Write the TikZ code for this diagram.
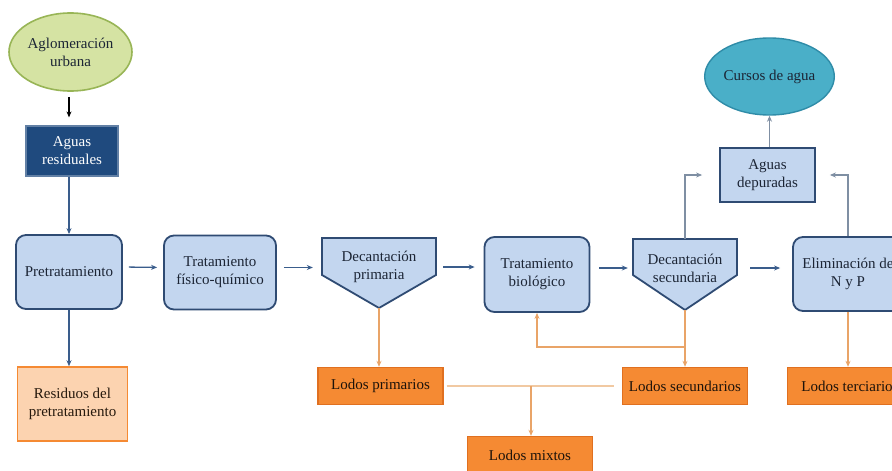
\documentclass[tikz,border=0pt]{standalone}
\usepackage{fontspec}
\setmainfont{Liberation Serif}
\usetikzlibrary{arrows.meta,shapes.geometric}

\definecolor{navy}{HTML}{2F4B73}
\definecolor{lblue}{HTML}{C3D6EF}
\definecolor{dblue}{HTML}{1F4A7E}
\definecolor{arrblue}{HTML}{3A5D8C}
\definecolor{grayarr}{HTML}{7F8FA3}
\definecolor{txtdark}{HTML}{1C2535}
\definecolor{orfill}{HTML}{F58A33}
\definecolor{ordraw}{HTML}{E07020}
\definecolor{orline}{HTML}{E9A468}
\definecolor{orlight}{HTML}{F1C9A2}
\definecolor{peach}{HTML}{FCD3B0}
\definecolor{gfill}{HTML}{D5E3A3}
\definecolor{gdraw}{HTML}{98B556}
\definecolor{teal}{HTML}{4AAFC8}
\definecolor{tealdraw}{HTML}{2F8CA8}

\begin{document}
\begin{tikzpicture}[x=1pt,y=-1pt,
  every node/.style={font=\fontsize{15}{18}\selectfont, align=center, inner sep=0pt},
  procbox/.style={draw=navy, line width=1.8pt, fill=lblue, rounded corners=10pt,
                  text=txtdark},
  pent/.style={draw=navy, line width=1.8pt, fill=lblue, line join=miter},
  plainbox/.style={draw=navy, line width=1.8pt, fill=lblue, text=txtdark},
  lodo/.style={draw=ordraw, line width=1.4pt, fill=orfill, text=black!85!brown,
               minimum width=125pt, minimum height=37pt},
  tip/.style={-{Stealth[length=6pt,width=5pt]}},
  flow/.style={tip, draw=arrblue, line width=1.3pt},
  sludge/.style={tip, draw=orline, line width=1.3pt},
]
\useasboundingbox (0,0) rectangle (892,471);
\fill[white] (0,0) rectangle (892,471);

% source and raw water
\node[ellipse, draw=gdraw, line width=1.6pt, fill=gfill, text=txtdark,
      minimum width=123pt, minimum height=78pt] (agl) at (70.5,52) {Aglomeración\\urbana};
\node[draw=dblue!70!white, line width=1.2pt, fill=dblue, text=white,
      minimum width=92pt, minimum height=50pt] (res) at (72,151) {Aguas\\residuales};

% treatment line
\node[procbox, minimum width=106pt, minimum height=74pt] (pret) at (69,272) {Pretratamiento};
\node[procbox, minimum width=112pt, minimum height=74pt] (fq) at (220,272.5) {Tratamiento\\físico-químico};
\filldraw[pent] (322,238) -- (436,238) -- (436,275) -- (379,308) -- (322,275) -- cycle;
\coordinate (dptip) at (379,308);
\node[minimum width=114pt, minimum height=58pt, text=txtdark] (dp) at (379,267) {Decantación\\primaria};
\node[procbox, minimum width=105pt, minimum height=75pt] (bio) at (537,274.5) {Tratamiento\\biológico};
\filldraw[pent] (633,239) -- (737,239) -- (737,275) -- (685,310) -- (633,275) -- cycle;
\coordinate (dstip) at (685,310);
\node[minimum width=104pt, minimum height=58pt, text=txtdark] (ds) at (685,268) {Decantación\\secundaria};
\node[procbox, minimum width=110pt, minimum height=74pt] (elim) at (848,274) {Eliminación de\\N y P};

% treated water
\node[plainbox, minimum width=95pt, minimum height=54pt] (dep) at (767.5,175) {Aguas\\depuradas};
\node[ellipse, draw=tealdraw, line width=1.4pt, fill=teal, text=txtdark,
      minimum width=121pt, minimum height=77pt] (cur) at (769.5,76.5) {Cursos de agua};

% residues and sludges
\node[draw=orfill, line width=1.6pt, fill=peach, text=black!80!brown,
      minimum width=110pt, minimum height=74pt] (resid) at (72.5,404) {Residuos del\\pretratamiento};
\node[lodo] (lprim) at (380.5,386) {Lodos primarios};
\node[lodo] (lsec) at (685,386) {Lodos secundarios};
\node[lodo] (lter) at (850,386) {Lodos terciarios};
\node[lodo] (lmix) at (530,455) {Lodos mixtos};

% water path (vertical runs follow the line x of the pretreatment box)
\draw[tip, black, line width=1.2pt, shorten <=5pt, shorten >=8pt]
  (pret.north |- agl.south) -- (pret.north |- res.north);
\draw[flow] (pret.north |- res.south) -- (pret.north);
\draw[flow] (pret.south) -- (pret.south |- resid.north);
\draw[flow, shorten <=6pt, shorten >=6pt] ([yshift=5pt]pret.east) -- ([yshift=5pt]fq.west);
\draw[flow, shorten <=7pt, shorten >=9pt] ([yshift=5pt]fq.east) -- ([yshift=5pt]fq.east -| dp.west);
\draw[flow, shorten <=7pt, shorten >=9pt] (dp.east) -- (dp.east -| bio.west);
\draw[flow, shorten <=9pt, shorten >=5pt] (bio.east |- ds.west) -- (ds.west);
\draw[flow, shorten <=13pt, shorten >=12pt] (ds.east) -- (ds.east -| elim.west);

% towards the receiving water
\draw[tip, draw=grayarr, line width=1.3pt] (dep.north -| cur.south) -- (cur.south);
\draw[tip, draw=grayarr, line width=1.3pt, shorten >=17pt] (ds.north) |- (dep.west);
\draw[tip, draw=grayarr, line width=1.3pt, shorten >=14pt] (elim.north) |- (dep.east);

% sludge lines
\draw[sludge] (dptip) -- (dptip |- lprim.north);
\draw[sludge] (dstip) -- (lsec.north);
\draw[sludge] (elim.south) -- (lter.north -| elim.south);
\coordinate (fb) at (685,347);
\draw[sludge] (fb) -| (bio.south);
\draw[draw=orlight, line width=1.3pt, shorten <=3pt, shorten >=8pt] (lprim.east) -- (lsec.west);
\coordinate (mx) at (531,386);
\draw[sludge] (mx) -- (lmix.north -| mx);
\end{tikzpicture}
\end{document}
